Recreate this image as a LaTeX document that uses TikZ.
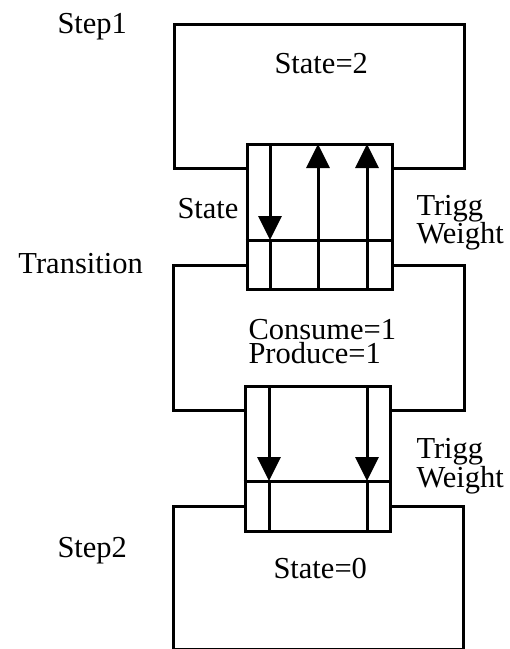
\documentclass[tikz,border=0pt]{standalone}
\usepackage{fontspec}
\setmainfont{Liberation Serif}
\usetikzlibrary{arrows.meta}
\begin{document}
\begin{tikzpicture}[x=1pt,y=-1pt,
  line width=3pt,
  box/.style={draw, rectangle, inner sep=0pt, line width=3pt},
  blk/.style={draw, fill=white, rectangle, inner sep=0pt, line width=3pt},
  lbl/.style={inner sep=0pt, anchor=base west, font=\fontsize{30.5}{28}\selectfont},
  arr/.style={-{Triangle[length=24pt,width=23pt]}, line width=3pt}]
\useasboundingbox (0,0) rectangle (510,649);
% boxes
\node[box, minimum width=290pt, minimum height=144pt] (step1) at (319,96) {};
\node[box, minimum width=291pt, minimum height=145pt] (trans) at (318.5,337.5) {};
\node[box, minimum width=290pt, minimum height=143pt] (step2) at (318,577.5) {};
% connector blocks
\node[blk, minimum width=145pt, minimum height=145pt] (ub) at (319.5,216.5) {};
\node[blk, minimum width=145pt, minimum height=145pt] (lb) at (317.5,458.5) {};
% upper block internals
\coordinate (ua1) at (270,144); \coordinate (ud1) at (270,240); \coordinate (ub1) at (270,289);
\coordinate (ua2) at (318,144); \coordinate (ub2) at (318,289);
\coordinate (ua3) at (367,144); \coordinate (ub3) at (367,289);
\draw (ub.west |- ud1) -- (ub.east |- ud1);
\draw (ud1) -- (ub1);
\draw[arr] (ua1) -- (ud1);
\draw[arr] (ub2) -- (ua2);
\draw[arr] (ub3) -- (ua3);
% lower block internals
\coordinate (la1) at (269,386); \coordinate (ld1) at (269,481); \coordinate (lb1) at (269,531);
\coordinate (la2) at (367,386); \coordinate (ld2) at (367,481); \coordinate (lb2) at (367,531);
\draw (lb.west |- ld1) -- (lb.east |- ld1);
\draw (ld1) -- (lb1);
\draw (ld2) -- (lb2);
\draw[arr] (la1) -- (ld1);
\draw[arr] (la2) -- (ld2);
% labels
\node[lbl] (t1) at (56,33) {Step1};
\node[lbl] (t2) at (17,273) {Transition};
\node[lbl] (t3) at (56,557) {Step2};
\node[lbl] (s2) at (273,73) {State=2};
\node[lbl] (st) at (176,218) {State};
\node[lbl] (tg1) at (415,215) {Trigg};
\node[lbl] (wt1) at (415,243) {Weight};
\node[lbl, anchor=north west, align=left, font=\fontsize{30.5}{24}\selectfont] (cp) at (247,318) {Consume=1\\Produce=1};
\node[lbl] (tg2) at (415,458) {Trigg};
\node[lbl] (wt2) at (415,487) {Weight};
\node[lbl] (s0) at (272,578) {State=0};
\end{tikzpicture}
\end{document}
